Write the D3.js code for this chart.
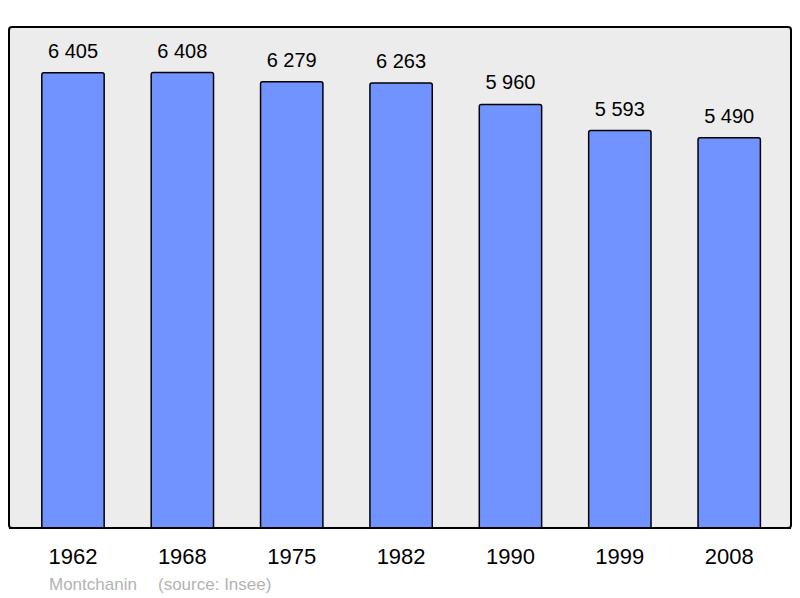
<!DOCTYPE html>
<html><head><meta charset="utf-8">
<script src="https://cdn.jsdelivr.net/npm/d3@7/dist/d3.min.js"></script>
<style>html,body{margin:0;padding:0;background:#fff}svg{display:block}</style>
</head><body>
<script>
const years = ["1962","1968","1975","1982","1990","1999","2008"];
const population = [6405, 6408, 6279, 6263, 5960, 5593, 5490];
const labels = ["6 405","6 408","6 279","6 263","5 960","5 593","5 490"];
const commune = "Montchanin";
const source = "(source: Insee)";

const W = 800, H = 598;
const svg = d3.select("body").append("svg").attr("width", W).attr("height", H);
const font = "'Liberation Sans', Arial, sans-serif";

const frame = {x: 9, y: 27, w: 782, h: 501};
svg.append("rect").attr("x", frame.x).attr("y", frame.y).attr("width", frame.w).attr("height", frame.h)
  .attr("rx", 3).attr("fill", "#ececec").attr("stroke", "#000").attr("stroke-width", 2);

const x = d3.scaleBand().domain(years).range([18.3, 783.9]).paddingInner(0.43).paddingOuter(0.215);
const y = d3.scaleLinear().domain([0, 7050]).range([frame.y + frame.h, frame.y]);

const data = years.map((yr, i) => ({yr, v: population[i], l: labels[i]}));

svg.selectAll("path.bar").data(data).enter().append("path").attr("class", "bar")
  .attr("d", d => {
    const x0 = x(d.yr), x1 = x0 + x.bandwidth(), y0 = y(d.v), yb = y(0), r = 2;
    return `M${x0},${yb} L${x0},${y0 + r} Q${x0},${y0} ${x0 + r},${y0} L${x1 - r},${y0} Q${x1},${y0} ${x1},${y0 + r} L${x1},${yb}`;
  })
  .attr("fill", "#7093ff").attr("stroke", "#000").attr("stroke-width", 1.5);

svg.append("line").attr("x1", frame.x).attr("x2", frame.x + frame.w)
  .attr("y1", frame.y + frame.h).attr("y2", frame.y + frame.h).attr("stroke", "#000").attr("stroke-width", 2);

svg.selectAll("text.val").data(data).enter().append("text").attr("class", "val")
  .attr("x", d => x(d.yr) + x.bandwidth() / 2).attr("y", d => y(d.v) - 15)
  .attr("text-anchor", "middle").attr("font-family", font).attr("font-size", 20).attr("fill", "#000")
  .text(d => d.l);

const xAxis = svg.append("g").attr("transform", `translate(0,${frame.y + frame.h})`)
  .call(d3.axisBottom(x).tickSize(0).tickPadding(0));
xAxis.select(".domain").remove();
xAxis.selectAll("text").attr("font-family", font).attr("font-size", 22).attr("fill", "#000")
  .attr("dy", null).attr("y", 36);

svg.append("text").attr("x", 49).attr("y", 590).attr("font-family", font).attr("font-size", 17)
  .attr("fill", "#b3b3b3").text(commune);
svg.append("text").attr("x", 158).attr("y", 590).attr("font-family", font).attr("font-size", 17)
  .attr("fill", "#b3b3b3").text(source);
</script>
</body></html>
